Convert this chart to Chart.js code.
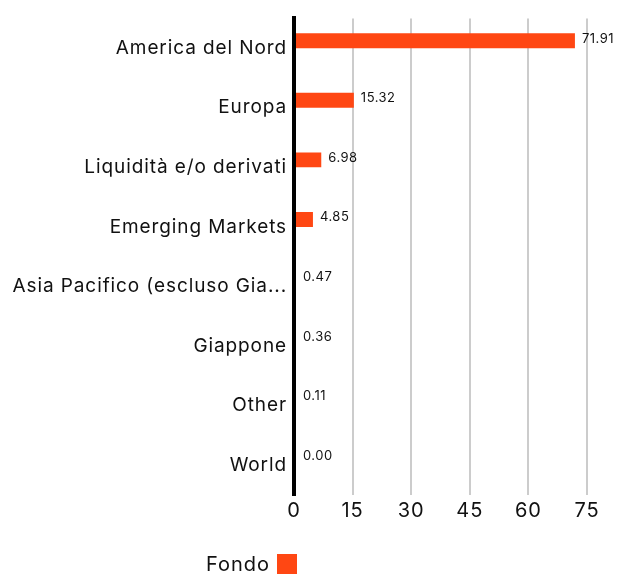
<!DOCTYPE html>
<html>
<head>
<meta charset="utf-8">
<script src="https://cdn.jsdelivr.net/npm/chart.js@4"></script>
<style>
  body { margin: 0; background: #fff; }
  #wrap { position: relative; width: 633px; height: 578px; }
  #legend {
    position: absolute; left: 206px; top: 552px;
    font-family: Inter, sans-serif; font-size: 20px; color: #111; letter-spacing: 1px;
    display: flex; align-items: center;
  }
  #legend span.box { display: inline-block; width: 20px; height: 20px; background: #ff4713; margin-left: 7px; }
</style>
</head>
<body>
<div id="wrap">
  <canvas id="chart" width="633" height="578"></canvas>
  <div id="legend"><span>Fondo</span><span class="box"></span></div>
</div>
<script>
// Dati del grafico
const categories = [
  "America del Nord",
  "Europa",
  "Liquidità e/o derivati",
  "Emerging Markets",
  "Asia Pacifico (escluso Giappone)",
  "Giappone",
  "Other",
  "World"
];
const fondoValues = [71.91, 15.32, 6.98, 4.85, 0.47, 0.36, 0.11, 0.00];
const xTicks = [0, 15, 30, 45, 60, 75];

const FONT = "Inter, sans-serif";

// Spaziatura lettere, come nel grafico originale
const letterSpacing = {
  id: "letterSpacing",
  beforeInit(chart) { chart.ctx.letterSpacing = "0.9px"; },
  beforeDraw(chart) { chart.ctx.letterSpacing = "0.9px"; }
};

// Etichette dei valori accanto alle barre
const valueLabels = {
  id: "valueLabels",
  afterDatasetsDraw(chart) {
    const ctx = chart.ctx;
    const meta = chart.getDatasetMeta(0);
    ctx.save();
    ctx.letterSpacing = "0.5px";
    ctx.font = "13px " + FONT;
    ctx.fillStyle = "#111";
    ctx.textBaseline = "middle";
    ctx.textAlign = "left";
    meta.data.forEach((bar, i) => {
      const x = Math.max(bar.x, chart.chartArea.left + 2) + 7;
      ctx.fillText(fondoValues[i].toFixed(2), x, bar.y - 2);
    });
    ctx.restore();
  }
};

new Chart(document.getElementById("chart"), {
  type: "bar",
  data: {
    labels: categories,
    datasets: [
      {
        label: "Fondo",
        data: fondoValues,
        backgroundColor: "#ff4713",
        categoryPercentage: 0.5,
        barPercentage: 1.0
      },
      {
        label: "Benchmark",
        data: [],
        backgroundColor: "#b0b0b0",
        categoryPercentage: 0.5,
        barPercentage: 1.0
      }
    ]
  },
  options: {
    indexAxis: "y",
    responsive: false,
    animation: false,
    layout: { padding: { top: 14, right: 46, bottom: 53, left: 0 } },
    plugins: {
      legend: { display: false },
      tooltip: { enabled: false }
    },
    scales: {
      x: {
        min: 0,
        max: 75,
        afterBuildTicks: (scale) => { scale.ticks = xTicks.map(v => ({ value: v })); },
        afterFit: (scale) => { scale.height = 30; },
        grid: { color: "#cccccc", lineWidth: 2, drawTicks: false },
        border: { display: false },
        ticks: { font: { family: FONT, size: 20 }, color: "#111", padding: 4 }
      },
      y: {
        afterFit: (scale) => { scale.width = 294; },
        grid: { display: false, drawTicks: false },
        border: { display: true, color: "#000", width: 4, z: 1 },
        ticks: {
          font: { family: FONT, size: 19 },
          color: "#111",
          padding: 7,
          callback: function (value) {
            const label = this.getLabelForValue(value);
            return label.length > 28 ? label.slice(0, 26) + "..." : label;
          }
        }
      }
    }
  },
  plugins: [letterSpacing, valueLabels]
});
</script>
</body>
</html>
